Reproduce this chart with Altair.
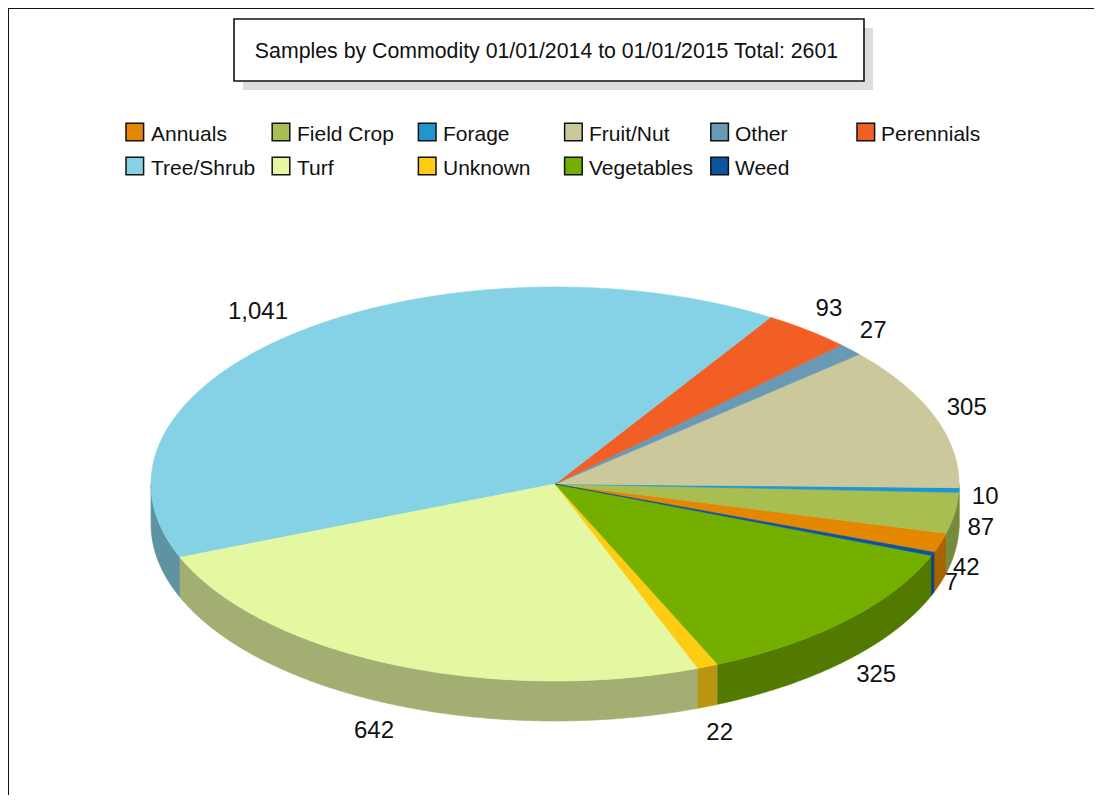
import math
import altair as alt
import pandas as pd

# ---- chart values
categories = ["Annuals", "Field Crop", "Forage", "Fruit/Nut", "Other", "Perennials",
              "Tree/Shrub", "Turf", "Unknown", "Vegetables", "Weed"]
values = [42, 87, 10, 305, 27, 93, 1041, 642, 22, 325, 7]
value_labels = ["42", "87", "10", "305", "27", "93", "1,041", "642", "22", "325", "7"]
top_colors = ["#E38800", "#A8BE50", "#1F96D2", "#CBC99C", "#6A99B5", "#F15F25",
              "#85D1E5", "#E3F8A1", "#FFCC14", "#74AF00", "#0B55A0"]
side_colors = ["#A66400", "#778A3C", "#778A3C", "#778A3C", "#4D7085", "#B0451B",
               "#5E93A2", "#A2AE72", "#B89611", "#527A00", "#074080"]
title_text = "Samples by Commodity 01/01/2014 to 01/01/2015 Total: 2601"

W, H = 1086, 787
OX, OY = 8, 8                 # page margin: data units are reference pixels
CX, CY, RX, RY, DEPTH = 555, 484, 404, 197, 40
START = -20.3                 # first slice starts here, running anticlockwise

total = sum(values)


def ex(t):
    return CX + RX * math.cos(math.radians(t))


def ey(t):
    return CY - RY * math.sin(math.radians(t))


def steps(a, b, d=0.5):
    n = max(1, int(math.ceil((b - a) / d)))
    return [a + (b - a) * i / n for i in range(n + 1)]


top_rows, side_rows, label_rows = [], [], []
angle = START
for i, (c, v, lab) in enumerate(zip(categories, values, value_labels)):
    a, b = angle, angle + v / total * 360
    angle = b
    # top wedge
    pts = [(CX, CY)] + [(ex(t), ey(t)) for t in steps(a, b)]
    for k, (x, y) in enumerate(pts):
        top_rows.append(dict(cat=c, x=x, y=y, k=k))
    # side wall, lower half of ellipse only
    for lo, hi in ((a, b), (a + 360, b + 360), (a - 360, b - 360)):
        s, e = max(lo, 180), min(hi, 360)
        if e > s:
            ts = steps(s, e)
            wall = [(ex(t), ey(t)) for t in ts] + [(ex(t), ey(t) + DEPTH) for t in reversed(ts)]
            for k, (x, y) in enumerate(wall):
                side_rows.append(dict(cat=c, x=x, y=y, k=k))
    # value label
    mid = math.radians((a + b) / 2)
    cs, sn = math.cos(mid), math.sin(mid)
    r = 400 if abs(sn) > 0.9 else 417
    ly = CY - 225 * sn + 1
    if sn < 0:
        ly += min(40, 50 * abs(sn)) + max(0, 4 * (1 - 3 * abs(sn)))
    label_rows.append(dict(text=lab, x=CX + r * cs, y=ly, right=cs >= 0))

top = pd.DataFrame(top_rows)
side = pd.DataFrame(side_rows)
labels = pd.DataFrame(label_rows)

# legend grid: six columns, filled row by row
legend_rows = []
for i, c in enumerate(categories):
    col, row = i % 6, i // 6
    legend_rows.append(dict(cat=c, sx=134.8 + 146.2 * col, sy=132 + 34 * row,
                            tx=151 + 146 * col, ty=135 + 34 * row))
legend_df = pd.DataFrame(legend_rows)

xs = alt.Scale(domain=[OX, OX + W], nice=False, zero=False)
ys = alt.Scale(domain=[OY + H, OY], nice=False, zero=False)
X = alt.X("x:Q", scale=xs, axis=None)
Y = alt.Y("y:Q", scale=ys, axis=None)

top_scale = alt.Scale(domain=categories, range=top_colors)
side_scale = alt.Scale(domain=categories, range=side_colors)

side_layer = alt.Chart(side).mark_line(interpolate="linear-closed", strokeWidth=0.6, fillOpacity=1).encode(
    x=X, y=Y, order="k:Q",
    fill=alt.Fill("cat:N", scale=side_scale, legend=None),
    stroke=alt.Stroke("cat:N", scale=side_scale, legend=None),
)

top_layer = alt.Chart(top).mark_line(interpolate="linear-closed", strokeWidth=0.6, fillOpacity=1).encode(
    x=X, y=Y, order="k:Q",
    fill=alt.Fill("cat:N", scale=top_scale, legend=None),
    stroke=alt.Stroke("cat:N", scale=top_scale, legend=None),
)

legend_swatches = alt.Chart(legend_df).mark_square(size=310, stroke="#111111", strokeWidth=1.5, opacity=1).encode(
    x=alt.X("sx:Q", scale=xs, axis=None), y=alt.Y("sy:Q", scale=ys, axis=None),
    fill=alt.Fill("cat:N", scale=top_scale, legend=None),
)
legend_text = alt.Chart(legend_df).mark_text(
    align="left", baseline="middle", font="Liberation Sans", fontSize=21, color="#111111"
).encode(x=alt.X("tx:Q", scale=xs, axis=None), y=alt.Y("ty:Q", scale=ys, axis=None), text="cat:N")

text_base = dict(font="Liberation Sans", fontSize=24, color="#111111", baseline="middle")
labels_r = alt.Chart(labels[labels.right]).mark_text(align="left", **text_base).encode(x=X, y=Y, text="text:N")
labels_l = alt.Chart(labels[~labels.right]).mark_text(align="right", **text_base).encode(x=X, y=Y, text="text:N")

one = pd.DataFrame({"t": [title_text]})
shadow = alt.Chart(one).mark_rect(fill="#DDDDDD").encode(
    x=alt.value(243 - OX), x2=alt.value(873 - OX), y=alt.value(28 - OY), y2=alt.value(90 - OY))
box = alt.Chart(one).mark_rect(fill="#ffffff", stroke="#111111", strokeWidth=1.6).encode(
    x=alt.value(234 - OX), x2=alt.value(864 - OX), y=alt.value(19 - OY), y2=alt.value(81 - OY))
title = alt.Chart(one).mark_text(font="Liberation Sans", fontSize=21.3, color="#111111", baseline="middle").encode(
    x=alt.value(546.5 - OX), y=alt.value(52 - OY), text="t:N")
edge_top = alt.Chart(one).mark_rule(color="#111111", strokeWidth=2).encode(
    x=alt.value(0), x2=alt.value(W), y=alt.value(0))
edge_left = alt.Chart(one).mark_rule(color="#111111", strokeWidth=2).encode(
    x=alt.value(0), y=alt.value(0), y2=alt.value(H))

chart = (
    alt.layer(edge_top, edge_left, shadow, box, title, legend_swatches, legend_text,
              side_layer, top_layer, labels_r, labels_l)
    .resolve_scale(fill="independent", stroke="independent")
    .properties(width=W, height=H, padding=0, autosize=alt.AutoSizeParams(type="none"),
                background="#ffffff")
    .configure_view(stroke=None)
)

chart.save("out.html", embed_options={"renderer": "svg", "actions": False})
